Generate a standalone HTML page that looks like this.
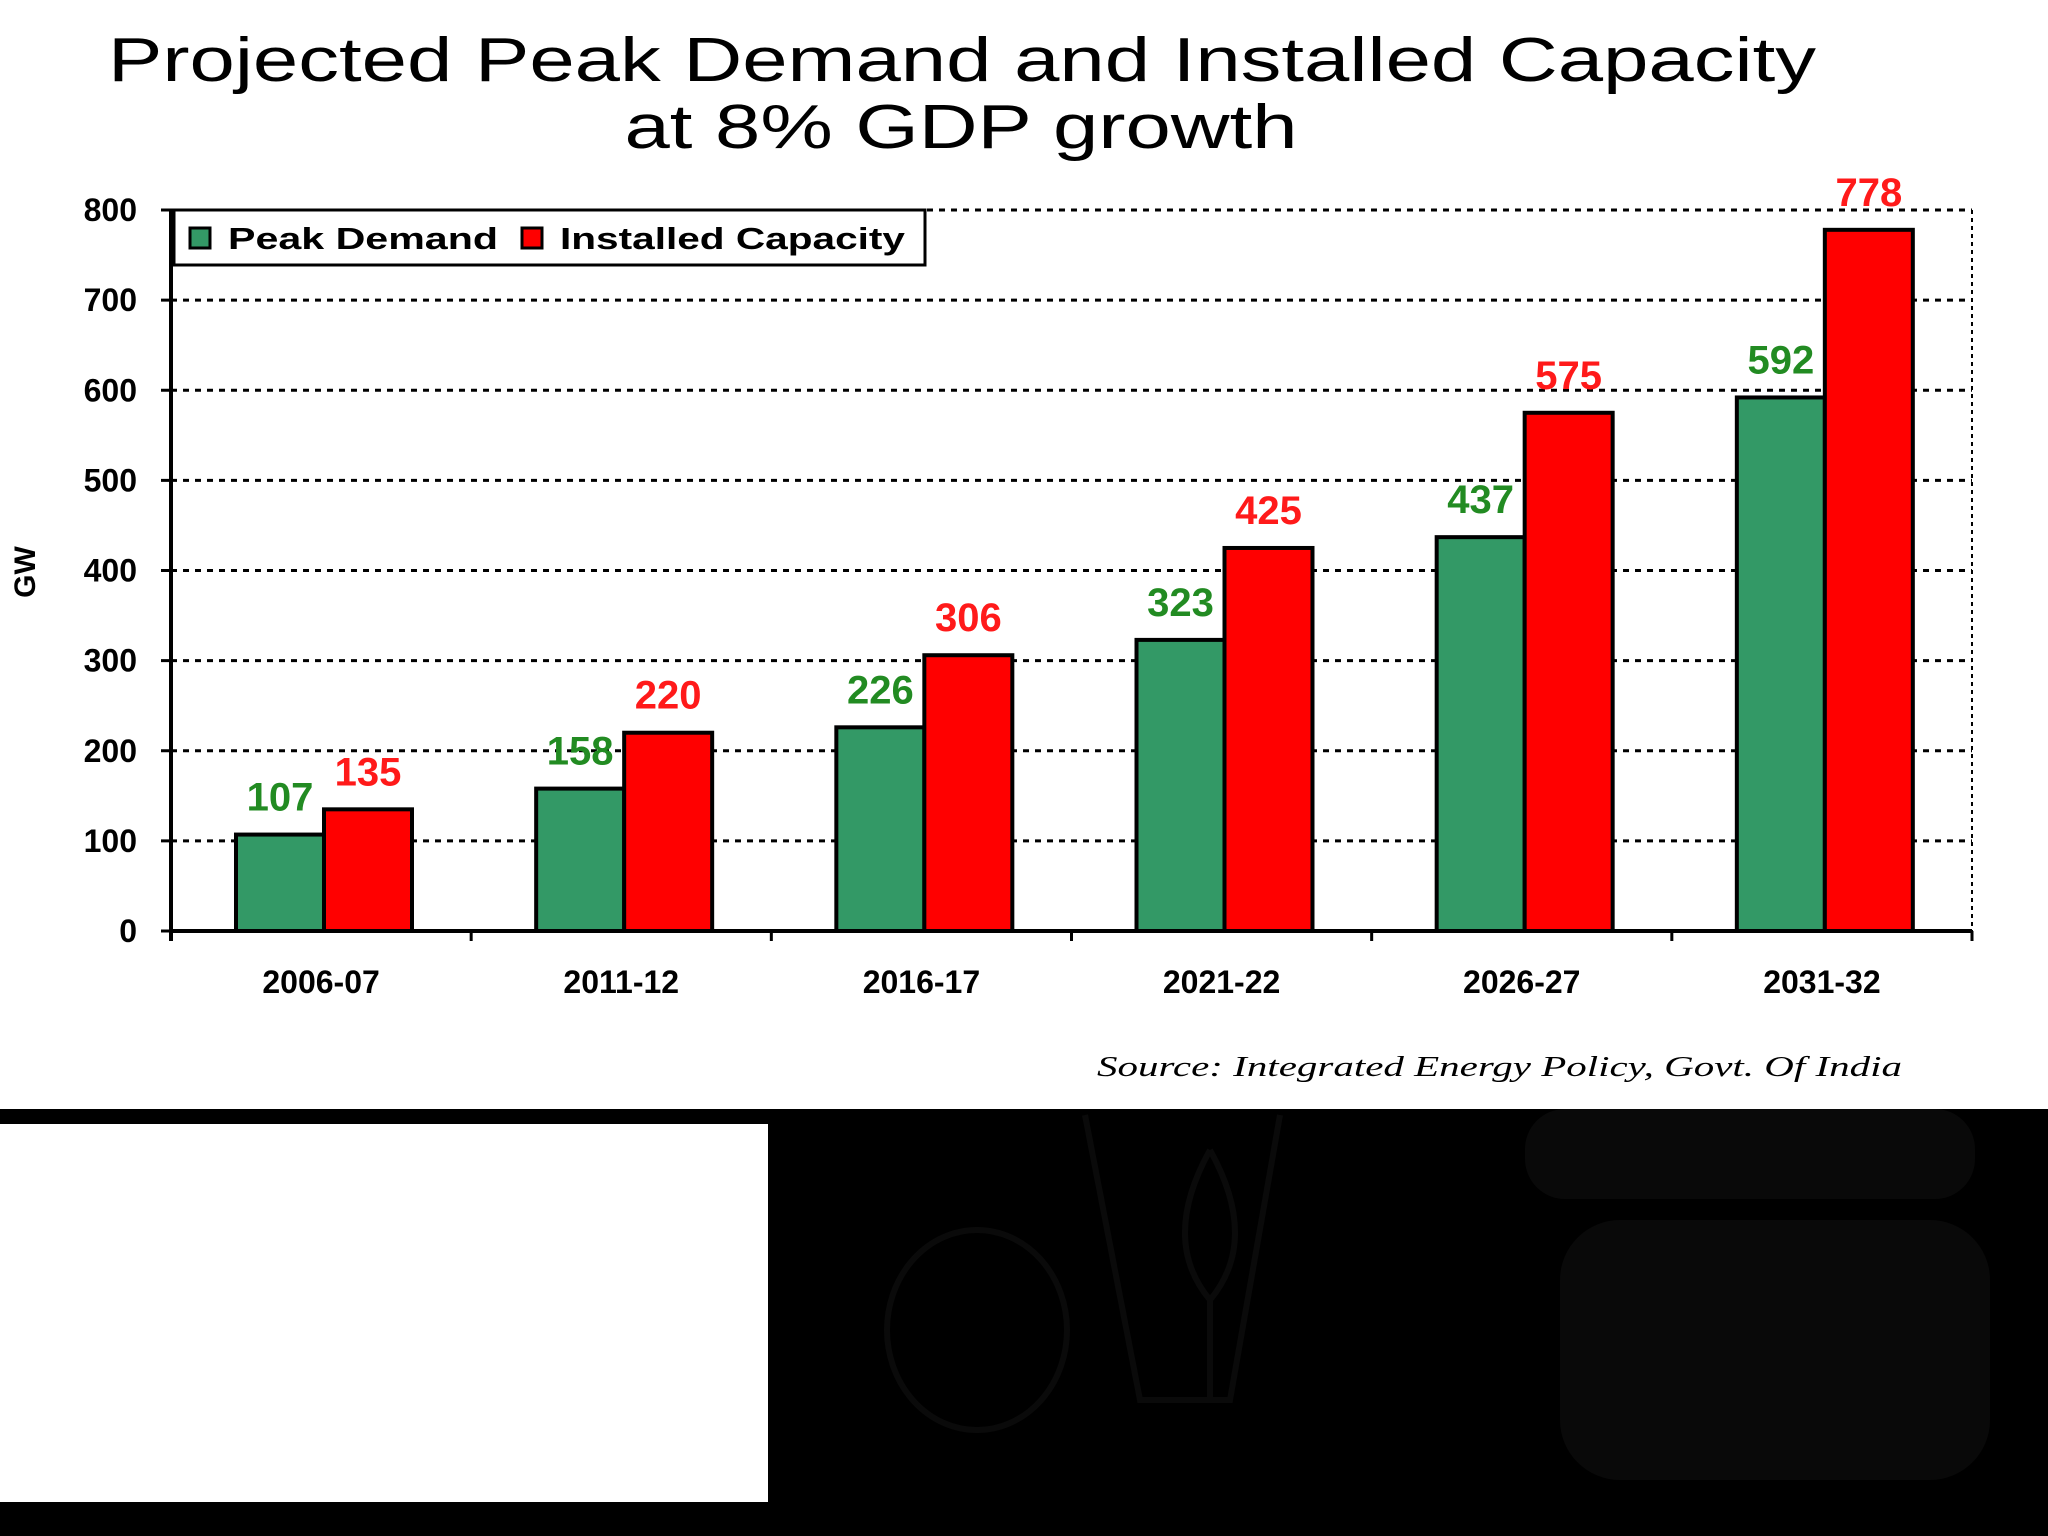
<!DOCTYPE html>
<html><head><meta charset="utf-8"><style>
html,body{margin:0;padding:0;width:2048px;height:1536px;overflow:hidden;background:#000}
svg{display:block}
</style></head><body>
<svg width="2048" height="1536" viewBox="0 0 2048 1536" xmlns="http://www.w3.org/2000/svg">
<rect x="0" y="0" width="2048" height="1109" fill="#ffffff"/>
<rect x="0" y="1109" width="2048" height="427" fill="#000"/>
<g fill="none" stroke="#0a0a0a" stroke-width="6">
<ellipse cx="977" cy="1330" rx="90" ry="100"/>
<path d="M1085 1115 L1140 1400 L1230 1400 L1280 1115"/>
<path d="M1210 1150 Q1160 1240 1210 1300 Q1260 1240 1210 1150 M1210 1300 L1210 1400"/>
</g>
<g fill="#090909">
<rect x="1560" y="1220" width="430" height="260" rx="60"/>
<rect x="1525" y="1109" width="450" height="90" rx="40"/>
</g>
<rect x="0" y="1124" width="768" height="378" fill="#ffffff"/>
<g id="chart" font-family="Liberation Sans, Arial, sans-serif"></g>
<g>
<text x="962" y="81" text-anchor="middle" font-family="Liberation Sans, Arial, sans-serif" font-size="62" textLength="1708" lengthAdjust="spacingAndGlyphs" fill="#000">Projected Peak Demand and Installed Capacity</text>
<text x="961" y="148" text-anchor="middle" font-family="Liberation Sans, Arial, sans-serif" font-size="62" textLength="673" lengthAdjust="spacingAndGlyphs" fill="#000">at 8% GDP growth</text>
</g>
<text x="1902" y="1076" text-anchor="end" font-family="Liberation Serif, serif" font-style="italic" font-size="29" textLength="805" lengthAdjust="spacingAndGlyphs" fill="#000">Source: Integrated Energy Policy, Govt. Of India</text>
</svg>
<script>
const categories = ["2006-07","2011-12","2016-17","2021-22","2026-27","2031-32"];
const peakDemand = [107,158,226,323,437,592];
const installedCapacity = [135,220,306,425,575,778];
const yTicks = [0,100,200,300,400,500,600,700,800];

const NS = "http://www.w3.org/2000/svg";
const g = document.getElementById('chart');
const X0 = 171, X1 = 1972, Y0 = 931, Ytop = 210, yMax = 800;
const groupW = (X1 - X0) / categories.length;
const barW = 88;
function y(v){ return Y0 - (v / yMax) * (Y0 - Ytop); }
function xGroup(i){ return X0 + i * groupW; }
function mk(tag, attrs, parent){
  const e = document.createElementNS(NS, tag);
  for (const k in attrs) e.setAttribute(k, attrs[k]);
  (parent || g).appendChild(e);
  return e;
}
yTicks.forEach(function(t){
  if (t > 0) {
    const l = mk('line', {x1:X0, x2:X1, y1:y(t), y2:y(t), stroke:'#000', 'stroke-width':3, 'stroke-dasharray':'6,6'});
    
    
  }
  const tk = mk('line', {x1:X0-10, x2:X0, y1:y(t), y2:y(t), stroke:'#000', 'stroke-width':3});
  
  
  const tx = mk('text', {x:137, y:y(t)+11, 'text-anchor':'end', 'font-size':32, 'font-weight':'bold', fill:'#000'});
  tx.textContent = t;
  
  
});
const rb = mk('line', {x1:X1, x2:X1, y1:Ytop, y2:Y0, stroke:'#000', 'stroke-width':2, 'stroke-dasharray':'4,4'});


categories.forEach(function(c, i){
  const gx = xGroup(i);
  const gxG = gx + 65, gxR = gx + 65 + barW;
  const b1 = mk('rect', {x:gxG, y:y(peakDemand[i]), width:barW, height:Y0 - y(peakDemand[i]), fill:'#339966', stroke:'#000', 'stroke-width':4});
  
  
  const b2 = mk('rect', {x:gxR, y:y(installedCapacity[i]), width:barW, height:Y0 - y(installedCapacity[i]), fill:'#ff0000', stroke:'#000', 'stroke-width':4});
  
  
  const t1 = mk('text', {x:gxG + barW/2, y:y(peakDemand[i]) - 24, 'text-anchor':'middle', 'font-size':40, 'font-weight':'bold', fill:'#228b22'});
  t1.textContent = peakDemand[i];
  
  
  const t2 = mk('text', {x:gxR + barW/2, y:y(installedCapacity[i]) - 24, 'text-anchor':'middle', 'font-size':40, 'font-weight':'bold', fill:'#ff1a1a'});
  t2.textContent = installedCapacity[i];
  
  
  const cl = mk('text', {x:gx + groupW/2, y:993, 'text-anchor':'middle', 'font-size':32, 'font-weight':'bold', fill:'#000'});
  cl.textContent = c;
  
  
  const xt = mk('line', {x1:gx, x2:gx, y1:Y0, y2:Y0+10, stroke:'#000', 'stroke-width':3});
  
  
});
const xtEnd = mk('line', {x1:X1, x2:X1, y1:Y0, y2:Y0+10, stroke:'#000', 'stroke-width':3});


const ya = mk('line', {x1:X0, x2:X0, y1:Ytop, y2:Y0+10, stroke:'#000', 'stroke-width':4});


const xa = mk('line', {x1:X0, x2:X1, y1:Y0, y2:Y0, stroke:'#000', 'stroke-width':4});


const yt = mk('text', {x:0, y:0, 'text-anchor':'middle', 'font-size':30, 'font-weight':'bold', fill:'#000', transform:'translate(35,572) rotate(-90)'});
yt.textContent = 'GW';


const lg = mk('g', {});


const lb = mk('rect', {x:174, y:210, width:751, height:55, fill:'#fff', stroke:'#000', 'stroke-width':3}, lg);


const s1 = mk('rect', {x:190, y:228, width:20, height:20, fill:'#339966', stroke:'#000', 'stroke-width':3}, lg);


const l1 = mk('text', {x:228, y:249, 'font-size':31, 'font-weight':'bold', fill:'#000', textLength:270, lengthAdjust:'spacingAndGlyphs'}, lg);
l1.textContent = 'Peak Demand';


const s2 = mk('rect', {x:522, y:228, width:20, height:20, fill:'#ff0000', stroke:'#000', 'stroke-width':3}, lg);


const l2 = mk('text', {x:560, y:249, 'font-size':31, 'font-weight':'bold', fill:'#000', textLength:345, lengthAdjust:'spacingAndGlyphs'}, lg);
l2.textContent = 'Installed Capacity';


</script>
</body></html>
